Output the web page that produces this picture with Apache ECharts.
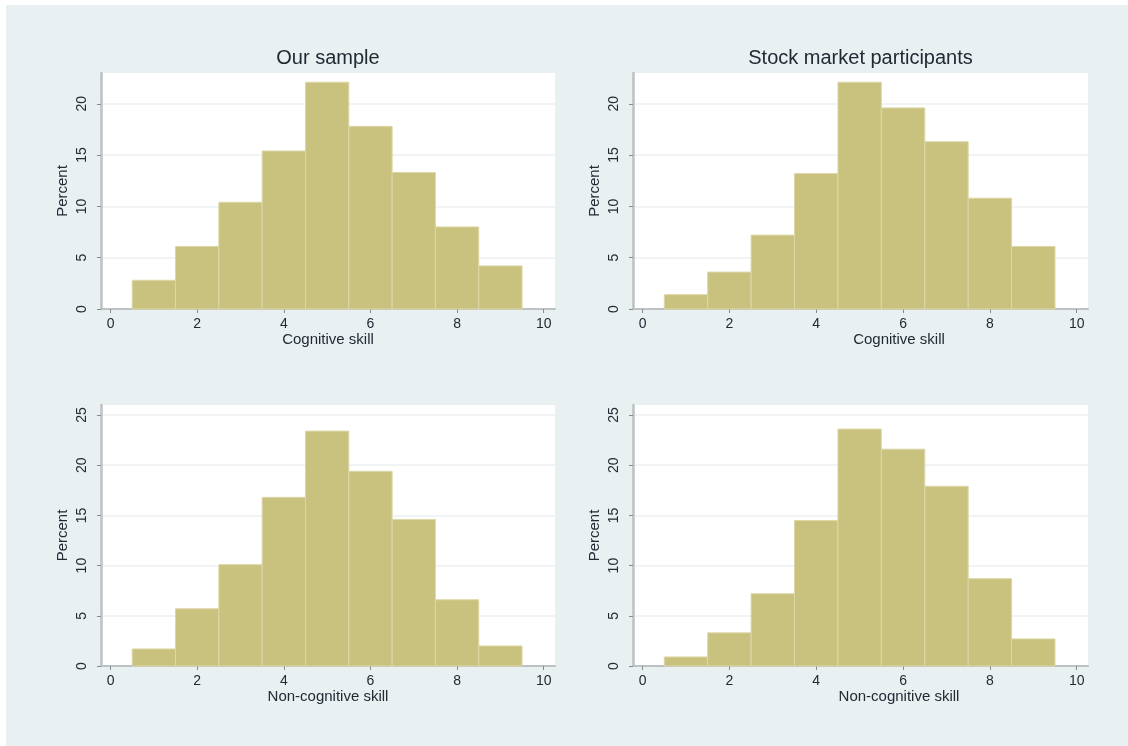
<!DOCTYPE html>
<html>
<head>
<meta charset="utf-8">
<script src="https://cdn.jsdelivr.net/npm/echarts@6/dist/echarts.min.js"></script>
<style>
  html, body { margin: 0; padding: 0; background: #ffffff; }
  #chart { position: absolute; left: 6px; top: 5px; width: 1122px; height: 741px; }
</style>
</head>
<body>
<div id="chart"></div>
<script>
// ---- data (percent of respondents per skill score, bins of width 1) ----
const binCenters = [1, 2, 3, 4, 5, 6, 7, 8, 9];
const ourCognitive = [2.8, 6.1, 10.4, 15.4, 22.1, 17.8, 13.3, 8.0, 4.2];
const stockCognitive = [1.4, 3.6, 7.2, 13.2, 22.1, 19.6, 16.3, 10.8, 6.1];
const ourNonCognitive = [1.7, 5.7, 10.1, 16.8, 23.4, 19.4, 14.6, 6.6, 2.0];
const stockNonCognitive = [0.9, 3.3, 7.2, 14.5, 23.6, 21.6, 17.9, 8.7, 2.7];

const panelTitles = ['Our sample', 'Stock market participants'];
const xAxisTitles = ['Cognitive skill', 'Non-cognitive skill'];
const yAxisTitle = 'Percent';
const xTicks = [0, 2, 4, 6, 8, 10];
const yTicksTop = [0, 5, 10, 15, 20];
const yTicksBottom = [0, 5, 10, 15, 20, 25];

// ---- styling ----
const FONT = 'Liberation Sans, Arial, Helvetica, sans-serif';
const TEXT = '#222a33';
const BAR = '#c9c27f';
const BAR_EDGE = '#ddd7a8';
const AXIS = '#bcc1c3';
const GRIDLINE = '#ebf1f2';

const grids = [
  { left: 95, top: 68, width: 454, height: 236 },
  { left: 627, top: 68, width: 455, height: 236 },
  { left: 95, top: 400, width: 454, height: 261 },
  { left: 627, top: 400, width: 455, height: 261 }
];
const panelData = [ourCognitive, stockCognitive, ourNonCognitive, stockNonCognitive];

const option = {
  backgroundColor: '#e8f0f2',
  animation: false,
  title: panelTitles.map((t, i) => ({
    text: t,
    left: grids[i].left + grids[i].width / 2,
    top: 43,
    textAlign: 'center',
    padding: 0,
    textStyle: { fontFamily: FONT, fontSize: 20, fontWeight: 'normal', color: TEXT }
  })),
  grid: grids.map(g => Object.assign({
    show: true, backgroundColor: '#ffffff', borderWidth: 0, containLabel: false
  }, g)),
  xAxis: grids.map((g, i) => ({
    type: 'value',
    gridIndex: i,
    min: -0.22,
    max: 10.26,
    name: xAxisTitles[i < 2 ? 0 : 1],
    nameLocation: 'middle',
    nameGap: 22,
    nameTextStyle: {
      fontFamily: FONT, fontSize: 15, color: TEXT,
      padding: (i % 2 === 1) ? [0, 0, 0, 77] : 0
    },
    axisLine: { show: true, onZero: false, lineStyle: { color: AXIS, width: 2 } },
    axisTick: { show: true, length: 4, customValues: xTicks, lineStyle: { color: '#868b8f', width: 1 } },
    axisLabel: { customValues: xTicks, margin: 8, fontFamily: FONT, fontSize: 14, color: TEXT },
    splitLine: { show: false }
  })),
  yAxis: grids.map((g, i) => {
    const ticks = i < 2 ? yTicksTop : yTicksBottom;
    return {
      type: 'value',
      gridIndex: i,
      min: 0,
      max: i < 2 ? 23 : 26,
      name: yAxisTitle,
      nameLocation: 'middle',
      nameRotate: 90,
      nameGap: 31,
      nameTextStyle: { fontFamily: FONT, fontSize: 15, color: TEXT },
      axisLine: { show: true, onZero: false, lineStyle: { color: AXIS, width: 2.5 } },
      axisTick: { show: true, length: 4, customValues: ticks, lineStyle: { color: '#868b8f', width: 1 } },
      axisLabel: { customValues: ticks, rotate: 90, margin: 12, fontFamily: FONT, fontSize: 14, color: TEXT },
      splitLine: { show: true, lineStyle: { color: GRIDLINE, width: 1.5 } }
    };
  }),
  series: panelData.map((vals, i) => ({
    type: 'custom',
    xAxisIndex: i,
    yAxisIndex: i,
    data: binCenters.map((c, k) => [c, vals[k]]),
    renderItem: function (params, api) {
      const c = api.value(0);
      const v = api.value(1);
      const p1 = api.coord([c - 0.5, v]);
      const p2 = api.coord([c + 0.5, 0]);
      return {
        type: 'rect',
        shape: { x: p1[0], y: p1[1], width: p2[0] - p1[0], height: p2[1] - p1[1] },
        style: { fill: BAR, stroke: BAR_EDGE, lineWidth: 1 }
      };
    }
  }))
};

const chart = echarts.init(document.getElementById('chart'), null, { renderer: 'canvas' });
chart.setOption(option);
</script>
</body>
</html>
